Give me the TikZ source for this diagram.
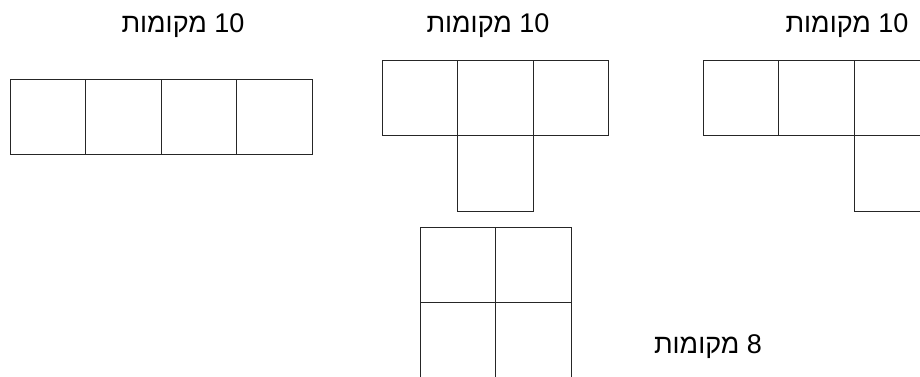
\documentclass[tikz,border=0pt]{standalone}
\usepackage{fontspec}
\setmainfont{Liberation Sans}
\newfontfamily\hebfont[Script=Hebrew]{Liberation Sans}
\TeXXeTstate=1
\begin{document}
\begin{tikzpicture}[x=1pt,y=-1pt,
  sq/.style={draw=black!85,line width=1pt},
  lbl/.style={font=\hebfont\fontsize{27}{31}\selectfont,inner sep=0pt,anchor=base}]
\useasboundingbox (0,0) rectangle (920,376);
\clip (0,0) rectangle (920,376);
% row of four
\foreach \x in {10,85.5,161,236.5}{\draw[sq] (\x,79) rectangle ++(75.5,75.5);}
% T shape
\foreach \x in {382,457.5,533}{\draw[sq] (\x,60) rectangle ++(75.5,75.5);}
\draw[sq] (457.5,135.5) rectangle ++(75.5,75.5);
% L shape
\foreach \x in {703,778.5,854}{\draw[sq] (\x,60) rectangle ++(75.5,75.5);}
\draw[sq] (854,135.5) rectangle ++(75.5,75.5);
% 2x2
\foreach \x in {420,495.5}{\foreach \y in {227,302.5}{\draw[sq] (\x,\y) rectangle ++(75.5,75.5);}}
% labels
\node[lbl] (t1) at (183,32) {\beginR\beginL 10\endL{} מקומות\endR};
\node[lbl] (t2) at (488,32) {\beginR\beginL 10\endL{} מקומות\endR};
\node[lbl] (t3) at (847,32) {\beginR\beginL 10\endL{} מקומות\endR};
\node[lbl] (t4) at (708,353) {\beginR\beginL 8\endL{} מקומות\endR};
\end{tikzpicture}
\end{document}
